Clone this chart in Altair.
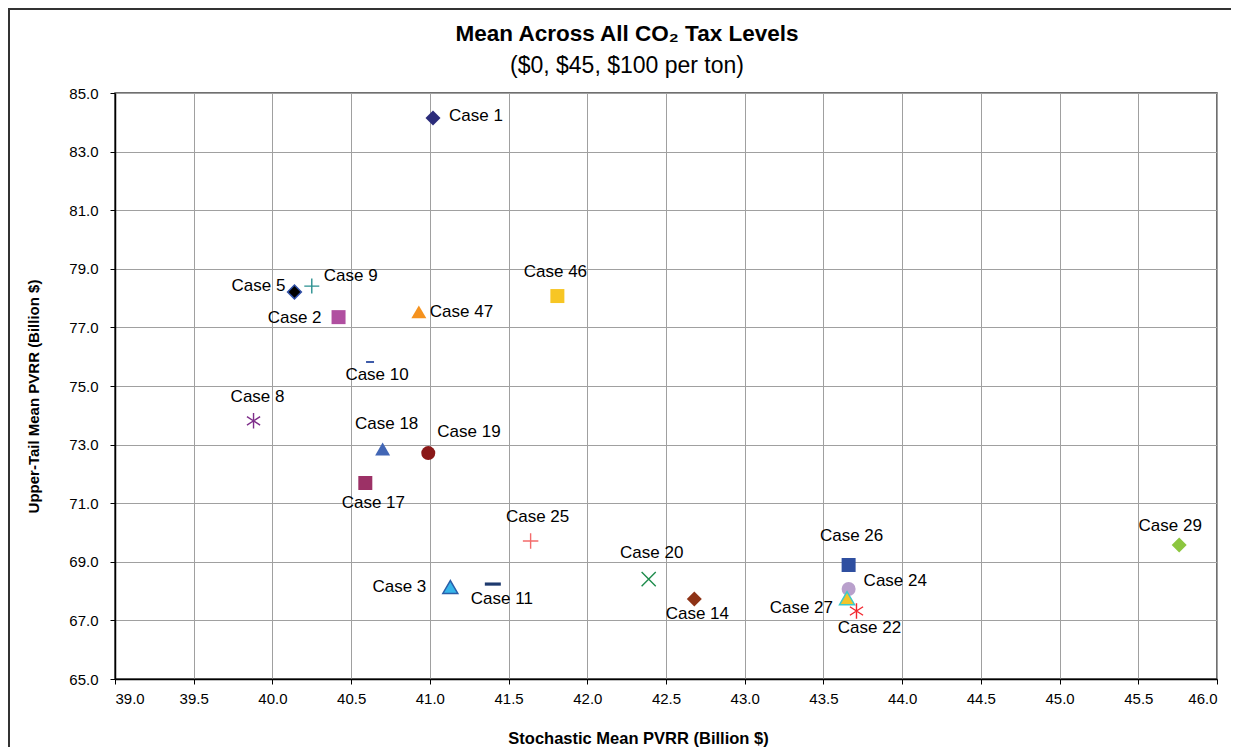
import altair as alt
import pandas as pd

# ---- data ----
cases = ["Case 1", "Case 5", "Case 9", "Case 2", "Case 47", "Case 46", "Case 10",
         "Case 8", "Case 18", "Case 19", "Case 17", "Case 25", "Case 3", "Case 11",
         "Case 20", "Case 14", "Case 26", "Case 24", "Case 27", "Case 22", "Case 29"]
stochastic_mean = [41.02, 40.14, 40.25, 40.42, 40.93, 41.81, 40.62,
                   39.88, 40.70, 40.99, 40.59, 41.64, 41.13, 41.40,
                   42.39, 42.68, 43.66, 43.66, 43.65, 43.71, 45.76]
upper_tail_mean = [84.15, 78.21, 78.41, 77.35, 77.53, 78.07, 75.82,
                   73.81, 72.85, 72.71, 71.69, 69.71, 68.14, 68.24,
                   68.41, 67.73, 68.89, 68.07, 67.76, 67.32, 69.57]
x_ticks = [39.0, 39.5, 40.0, 40.5, 41.0, 41.5, 42.0, 42.5, 43.0, 43.5, 44.0, 44.5, 45.0, 45.5, 46.0]
y_ticks = [65.0, 67.0, 69.0, 71.0, 73.0, 75.0, 77.0, 79.0, 81.0, 83.0, 85.0]

df = pd.DataFrame({"case": cases, "x": stochastic_mean, "y": upper_tail_mean})

# ---- styles (marker shape, fill, stroke, size, filled, label dx, dy, align) ----
PLUS = "M-1,0H1M0,-1V1"
XMARK = "M-1,-1L1,1M-1,1L1,-1"
STAR = "M0,-1V1M-0.85,-0.55L0.85,0.55M-0.85,0.55L0.85,-0.55"
DASH_S = "M-1,-0.25H1V0.25H-1Z"
DASH_L = "M-1,-0.2H1V0.2H-1Z"

style = {
    "Case 1":  ("diamond", "#2B2C7A", None, 225, True, 16, -2, "left"),
    "Case 5":  ("diamond", "#000000", "#3050A8", 190, True, -9, -6, "right"),
    "Case 9":  (PLUS, None, "#2A9090", 225, False, 12, -10, "left"),
    "Case 2":  ("square", "#B04FA0", None, 196, True, -17, 1, "right"),
    "Case 47": ("triangle-up", "#F5921E", None, 225, True, 11, 0, "left"),
    "Case 46": ("square", "#F7C624", None, 196, True, -2, -24, "center"),
    "Case 10": (DASH_S, "#3E5BA9", None, 64, True, 7, 13, "center"),
    "Case 8":  (STAR, None, "#7E2E8A", 240, False, 4, -24, "center"),
    "Case 18": ("triangle-up", "#4266B5", None, 225, True, 4, -25, "center"),
    "Case 19": ("circle", "#8A1818", None, 196, True, 9, -21, "left"),
    "Case 17": ("square", "#9C3166", None, 196, True, 8, 20, "center"),
    "Case 25": (PLUS, None, "#F36B6B", 240, False, 7, -24, "center"),
    "Case 3":  ("triangle-up", "#36B5EA", "#2A5EA8", 225, True, -24, 0, "right"),
    "Case 11": (DASH_L, "#1E3A6E", None, 256, True, 9, 15, "center"),
    "Case 20": (XMARK, None, "#1E8C4C", 200, False, 3, -26, "center"),
    "Case 14": ("diamond", "#8E3316", None, 225, True, 3, 15, "center"),
    "Case 26": ("square", "#2F4FA0", None, 196, True, 3, -29, "center"),
    "Case 24": ("circle", "#B9A0CC", None, 196, True, 15, -8, "left"),
    "Case 27": ("triangle-up", "#F2C42A", "#3CC9C9", 225, True, -14, 10, "right"),
    "Case 22": (STAR, None, "#F2262E", 240, False, 13, 17, "center"),
    "Case 29": ("diamond", "#8CC63F", None, 225, True, -9, -19, "center"),
}

FONT = "Liberation Sans"

x_enc = alt.X("x:Q", scale=alt.Scale(domain=[39, 46], nice=False, zero=False),
              axis=alt.Axis(values=x_ticks, format=".1f",
                            title="Stochastic Mean PVRR (Billion $)",
                            titleFontSize=16.5,
                            titleX=523, titleY=59, titleBaseline="middle",
                            titleAlign="center", labelPadding=7))
y_enc = alt.Y("y:Q", scale=alt.Scale(domain=[65, 85], nice=False, zero=False),
              axis=alt.Axis(values=y_ticks, format=".1f",
                            title="Upper-Tail Mean PVRR (Billion $)",
                            titleFontSize=15,
                            titleX=-82, titleY=303, titleBaseline="middle",
                            titleAlign="center", labelPadding=12))

base = alt.Chart(df).encode(x=x_enc, y=y_enc)

layers = []
for name in cases:
    shape, fill, stroke, size, filled, dx, dy, align = style[name]
    kw = dict(shape=shape, size=size, opacity=1)
    if filled:
        kw.update(filled=True, fill=fill)
        if stroke:
            kw.update(stroke=stroke, strokeWidth=1.5)
        else:
            kw.update(strokeWidth=0)
    else:
        kw.update(filled=False, stroke=stroke, strokeWidth=1.4)
    pts = base.transform_filter(alt.datum.case == name).mark_point(**kw)
    lbl = base.transform_filter(alt.datum.case == name).mark_text(
        align=align, baseline="middle", dx=dx, dy=dy, fontSize=17, font=FONT, color="#000000"
    ).encode(text="case:N")
    layers += [pts, lbl]

frame_data = pd.DataFrame({"k": [0]})
top_line = alt.Chart(frame_data).mark_rule(color="#333333", strokeWidth=2).encode(
    x=alt.value(-107), x2=alt.value(1116), y=alt.value(-84))
left_line = alt.Chart(frame_data).mark_rule(color="#333333", strokeWidth=2).encode(
    x=alt.value(-106), y=alt.value(-85), y2=alt.value(654))

chart = alt.layer(*layers, top_line, left_line).properties(
    width=1102,
    height=586,
    background="white",
    autosize=alt.AutoSizeParams(type="none"),
    padding={"left": 107, "top": 85, "right": 14, "bottom": 68},
    title=alt.TitleParams(
        text="Mean Across All CO₂ Tax Levels",
        subtitle="($0, $45, $100 per ton)",
        anchor="middle", dx=-39, offset=-71,
        fontSize=22.5, fontWeight="bold", font=FONT, color="#000000",
        subtitleFontSize=23, subtitleFont=FONT, subtitleColor="#000000",
        subtitlePadding=10,
    ),
).configure_view(
    stroke="#404040", strokeWidth=1.5
).configure_axis(
    labelFont=FONT, labelFontSize=15, labelColor="#000000",
    titleFont=FONT, titleFontWeight="bold", titleColor="#000000",
    gridColor="#A0A0A0", gridWidth=1, gridOpacity=1,
    domainColor="#000000", domainWidth=1.5,
    tickColor="#000000", tickSize=5,
)

chart.save("out.html", embed_options={"renderer": "svg", "actions": False})
